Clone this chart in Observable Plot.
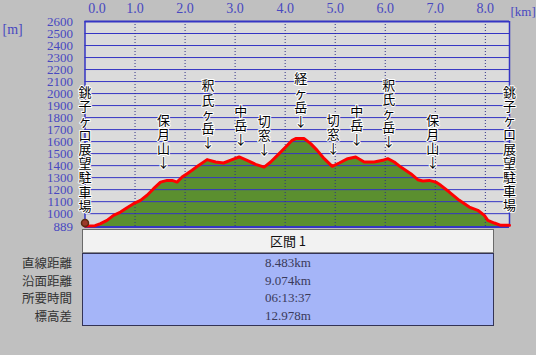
<!DOCTYPE html>
<html>
<head>
<meta charset="utf-8">
<script src="https://cdn.jsdelivr.net/npm/d3@7"></script>
<script src="https://cdn.jsdelivr.net/npm/@observablehq/plot@0.6"></script>
<style>
  html, body { margin: 0; padding: 0; background: #c0c0c0; }
  #wrap { position: relative; width: 536px; height: 355px; background: #c0c0c0; overflow: hidden; }
  #wrap svg { position: absolute; left: 0; top: 0; }
  .abs { position: absolute; white-space: nowrap; }
  .rowlab { left: 0; width: 72px; text-align: right; font-family: "Noto Sans CJK JP", sans-serif; font-size: 12.5px; color: #333; height: 16px; line-height: 16px; }
  .val { left: 82px; width: 412px; text-align: center; font-family: "Liberation Serif", serif; font-size: 13px; color: #3a3a5a; height: 16px; line-height: 16px; }
</style>
</head>
<body>
<div id="wrap"></div>
<script>
// ---- data ----
const dist = [0.00, 0.20, 0.31, 0.44, 0.57, 0.71, 0.84, 0.97, 1.11, 1.24, 1.37, 1.51, 1.64, 1.74, 1.84, 1.94, 2.04, 2.14, 2.27, 2.44, 2.61, 2.77, 2.94, 3.08, 3.24, 3.41, 3.58, 3.71, 3.88, 4.01, 4.14, 4.21, 4.38, 4.51, 4.64, 4.78, 4.94, 5.08, 5.25, 5.41, 5.58, 5.78, 5.95, 6.05, 6.18, 6.31, 6.51, 6.65, 6.75, 6.88, 7.01, 7.11, 7.28, 7.48, 7.68, 7.85, 7.98, 8.05, 8.18, 8.31, 8.483];
const elev = [897, 900, 917, 944, 986, 1013, 1050, 1083, 1111, 1153, 1208, 1263, 1277, 1277, 1263, 1305, 1333, 1361, 1402, 1450, 1430, 1422, 1450, 1472, 1444, 1411, 1388, 1430, 1500, 1555, 1611, 1625, 1625, 1583, 1527, 1458, 1394, 1422, 1458, 1472, 1430, 1430, 1444, 1458, 1430, 1388, 1333, 1283, 1272, 1277, 1263, 1236, 1180, 1111, 1055, 1028, 986, 944, 922, 903, 903];

const peakNames = ["保月山", "釈氏ヶ岳", "中岳", "切窓", "経ヶ岳", "切窓", "中岳", "釈氏ヶ岳", "保月山"];
const peakKm = [1.57, 2.46, 3.11, 3.58, 4.31, 4.96, 5.43, 6.07, 6.95];
const peakElev = [1277, 1450, 1472, 1388, 1625, 1394, 1472, 1458, 1277];

const endName = "銚子ヶ口展望駐車場";
const endKm = [0, 8.483];
const endElev = [900, 903];

const yTicks = [889, 1000, 1100, 1200, 1300, 1400, 1500, 1600, 1700, 1800, 1900, 2000, 2100, 2200, 2300, 2400, 2500, 2600];
const xTicks = [0, 1, 2, 3, 4, 5, 6, 7, 8];

const sectionTitle = "区間 1";
const rowLabels = ["直線距離", "沿面距離", "所要時間", "標高差"];
const rowValues = ["8.483km", "9.074km", "06:13:37", "12.978m"];

// ---- tables for marks ----
const profile = dist.map((d, i) => ({km: d, m: elev[i]}));
const peaks = peakNames.map((n, i) => ({km: peakKm[i], m: peakElev[i], t: n.split("").join("\n") + "\n↓"}));
const ends = endKm.map((k, i) => ({km: k, m: endElev[i], t: endName.split("").join("\n")}));
const gridVals = yTicks.filter(v => v > 889 && v < 2600);

const blue = "#3535c4";
const labBlue = "#4848c0";
const jp = "'Noto Sans CJK JP', sans-serif";
const serif = "'Liberation Serif', serif";

const chart = Plot.plot({
  width: 536,
  height: 355,
  marginTop: 21,
  marginBottom: 128.5,
  marginLeft: 84.5,
  marginRight: 27,
  style: {background: "transparent", overflow: "visible"},
  x: {domain: [0, 8.483], axis: null},
  y: {domain: [889, 2600], axis: null},
  marks: [
    Plot.frame({fill: "#dbdbdb", stroke: null}),
    Plot.areaY(profile, {x: "km", y1: 889, y2: "m", fill: "#5b8f2f", curve: "linear"}),
    Plot.ruleY(gridVals, {stroke: blue, strokeWidth: 1}),
    Plot.ruleX(xTicks.filter(d => d > 0), {stroke: "#303088", strokeWidth: 1, strokeDasharray: "1,2"}),
    Plot.ruleY([2600], {stroke: blue, strokeWidth: 2}),
    Plot.ruleY([889], {stroke: blue, strokeWidth: 2}),
    Plot.ruleX([0, 8.483], {stroke: blue, strokeWidth: 1.5}),
    Plot.line(profile, {x: "km", y: "m", stroke: "#ff0000", strokeWidth: 3, strokeLinejoin: "round"}),
    Plot.axisY({ticks: yTicks, tickSize: 0, tickPadding: 12, tickFormat: d => String(d), label: null, fill: labBlue, fontSize: 13, fontFamily: serif}),
    Plot.axisX({anchor: "top", ticks: xTicks.filter(d => d > 0), tickSize: 0, tickPadding: 9, tickFormat: d => d.toFixed(1), label: null, fill: labBlue, fontSize: 14, fontFamily: serif}),
    Plot.axisX({anchor: "top", ticks: [0], tickSize: 0, tickPadding: 9, dx: 12, tickFormat: d => d.toFixed(1), label: null, fill: labBlue, fontSize: 14, fontFamily: serif}),
    Plot.text(["[km]"], {frameAnchor: "top-right", dx: 1, dy: -15, textAnchor: "start", fill: labBlue, fontSize: 13, fontFamily: serif}),
    Plot.text(["[m]"], {frameAnchor: "top-left", dx: -82.5, dy: 3, textAnchor: "start", fill: labBlue, fontSize: 14, fontFamily: serif}),
    Plot.text(peaks, {x: "km", y: "m", text: "t", lineAnchor: "bottom", dy: -13, lineHeight: 1.08, fontSize: 13, fontFamily: jp, fill: "#000", stroke: "#ffffff", strokeWidth: 2, paintOrder: "stroke"}),
    Plot.text(ends, {x: "km", y: "m", text: "t", lineAnchor: "bottom", dy: -15, lineHeight: 1.09, fontSize: 13, fontFamily: jp, fill: "#000", stroke: "#ffffff", strokeWidth: 2, paintOrder: "stroke"}),
    Plot.dot([{km: 0, m: 889}], {x: "km", y: "m", r: 3.5, fill: "#9b3a2a", stroke: "#5a2a10", dy: -4})
  ]
});

const wrap = document.getElementById("wrap");
wrap.appendChild(chart);

// ---- statistics table below the chart ----
function div(cls, style, text) {
  const d = document.createElement("div");
  d.className = "abs " + (cls || "");
  Object.assign(d.style, style);
  if (text != null) d.textContent = text;
  wrap.appendChild(d);
  return d;
}
div("", {left: "82px", top: "229px", width: "410px", height: "22px", background: "#f2f2f2", border: "1px solid #6a6a6a", borderBottom: "1px solid #8a8a8a"});
div("", {left: "82px", top: "229px", width: "412px", height: "24px", lineHeight: "24px", textAlign: "center", fontFamily: jp, fontSize: "13px", color: "#111"}, sectionTitle);
div("", {left: "82px", top: "253px", width: "410px", height: "71px", background: "#a5b5f8", border: "1px solid #333355"});
const rowCenters = [262.7, 281, 298.3, 316];
rowLabels.forEach((t, i) => div("rowlab", {top: (rowCenters[i] - 8) + "px"}, t));
rowValues.forEach((t, i) => div("val", {top: (rowCenters[i] - 8) + "px"}, t));
</script>
</body>
</html>
